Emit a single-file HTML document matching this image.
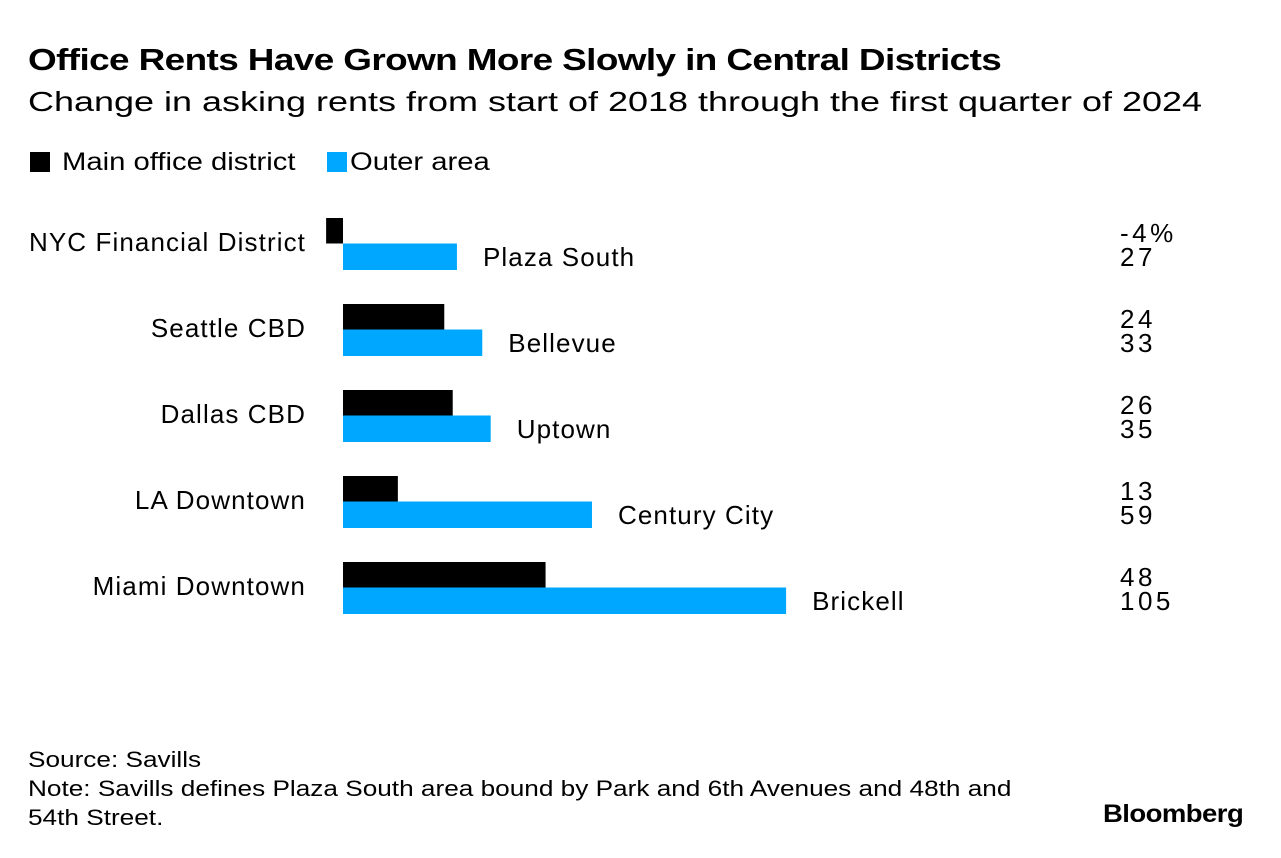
<!DOCTYPE html>
<html><head><meta charset="utf-8"><style>
body{margin:0;background:#fff;font-family:"Liberation Sans",sans-serif;color:#000}
.t{position:absolute;white-space:nowrap;transform-origin:0 0}
</style></head><body>
<div style="position:relative;width:1281px;height:858px;overflow:hidden">
<div class="t" style="left:28px;top:42px;font-size:31px;font-weight:bold;letter-spacing:-0.5px;transform:scaleX(1.19)">Office Rents Have Grown More Slowly in Central Districts</div>
<div class="t" style="left:28px;top:86px;font-size:28px;transform:scaleX(1.285)">Change in asking rents from start of 2018 through the first quarter of 2024</div>
<div class="t" style="left:30px;top:148px;font-size:25px"><span style="display:inline-block;width:20px;height:20px;background:#000;vertical-align:-2px;margin-right:12px"></span><span style="display:inline-block;transform:scaleX(1.17);transform-origin:0 0">Main office district</span></div>
<div class="t" style="left:327px;top:148px;font-size:25px"><span style="display:inline-block;width:20px;height:20px;background:#00a7ff;vertical-align:-2px;margin-right:3px"></span><span style="display:inline-block;transform:scaleX(1.17);transform-origin:0 0">Outer area</span></div>
<svg id="plot" width="1281" height="858" style="position:absolute;left:0;top:0"></svg>
<div class="t" style="left:28px;top:745px;font-size:22px;line-height:29px;transform:scaleX(1.19)">Source: Savills<br>Note: Savills defines Plaza South area bound by Park and 6th Avenues and 48th and<br>54th Street.</div>
<div class="t" style="left:1103px;top:800px;font-size:25px;font-weight:bold;letter-spacing:-0.5px;transform:scaleX(1.1)">Bloomberg</div>
</div>
<script>
const categories=["NYC Financial District","Seattle CBD","Dallas CBD","LA Downtown","Miami Downtown"];
const outerNames=["Plaza South","Bellevue","Uptown","Century City","Brickell"];
const mainValues=[-4,24,26,13,48];
const outerValues=[27,33,35,59,105];
const mainLabels=["-4%","24","26","13","48"];
const outerLabels=["27","33","35","59","105"];
const svg=document.getElementById('plot');const NS="http://www.w3.org/2000/svg";
const x=v=>343+v*4.22;
const y=i=>218+i*86;
function mk(tag,attrs,text){const e=document.createElementNS(NS,tag);for(const k in attrs)e.setAttribute(k,attrs[k]);if(text!==undefined)e.textContent=text;svg.appendChild(e);return e;}
const F='Liberation Sans, sans-serif';
categories.forEach((c,i)=>{
  const t=y(i);
  const b1=mk('rect',{x:Math.min(x(0),x(mainValues[i])),y:t,width:Math.abs(x(mainValues[i])-x(0)),height:25.5,fill:'#000'});
  
  
  const b2=mk('rect',{x:Math.min(x(0),x(outerValues[i])),y:t+25.5,width:Math.abs(x(outerValues[i])-x(0)),height:26.5,fill:'#00a7ff'});
  
  
  const l=mk('text',{x:306,y:t+33,'text-anchor':'end','font-size':26,'letter-spacing':'1.1px','font-family':F},c);
  
  
  const o=mk('text',{x:x(outerValues[i])+26,y:t+48,'font-size':26,'letter-spacing':'1.1px','font-family':F},outerNames[i]);
  
  
  const v1=mk('text',{x:1120,y:t+24,'font-size':26,'letter-spacing':'3.5px','font-family':F},mainLabels[i]);
  
  
  const v2=mk('text',{x:1120,y:t+48,'font-size':26,'letter-spacing':'3.5px','font-family':F},outerLabels[i]);
  
  
});
</script>
</body></html>
